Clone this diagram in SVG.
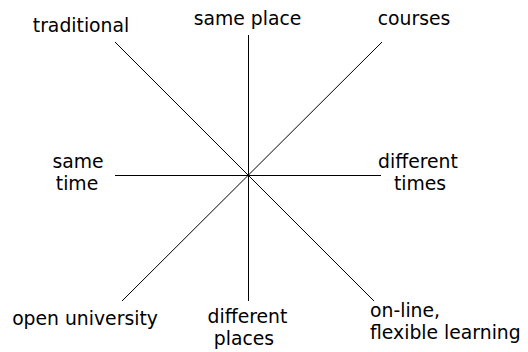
<svg xmlns="http://www.w3.org/2000/svg" width="528" height="352" viewBox="0 0 528 352">
<style>
.t{font-family:"DejaVu Sans",Verdana,sans-serif;font-size:18.8px;fill:#000}
.m{text-anchor:middle}
.ln{stroke:#000;stroke-width:1;fill:none}
</style>
<rect width="528" height="352" fill="#fff"/>
<g id="connectors">
<line class="ln" x1="248.5" y1="35" x2="248.5" y2="301"/>
<line class="ln" x1="115" y1="175.5" x2="381" y2="175.5"/>
<line class="ln" x1="115" y1="42" x2="374" y2="301"/>
<line class="ln" x1="382" y1="42" x2="122" y2="301"/>
</g>
<g id="traditional"><text class="t m" x="81" y="32">traditional</text></g>
<g id="same-place"><text class="t m" x="247.5" y="25">same place</text></g>
<g id="courses"><text class="t m" x="414" y="25">courses</text></g>
<g id="same-time"><text class="t m" x="78" y="168">same<tspan x="77" dy="22">time</tspan></text></g>
<g id="different-times"><text class="t m" x="418" y="168">different<tspan x="420" dy="22">times</tspan></text></g>
<g id="open-university"><text class="t m" x="85" y="325">open university</text></g>
<g id="different-places"><text class="t m" x="247.5" y="323">different<tspan x="244" dy="22">places</tspan></text></g>
<g id="online"><text class="t" x="370" y="317">on-line,<tspan x="370" dy="22">flexible learning</tspan></text></g>
</svg>
